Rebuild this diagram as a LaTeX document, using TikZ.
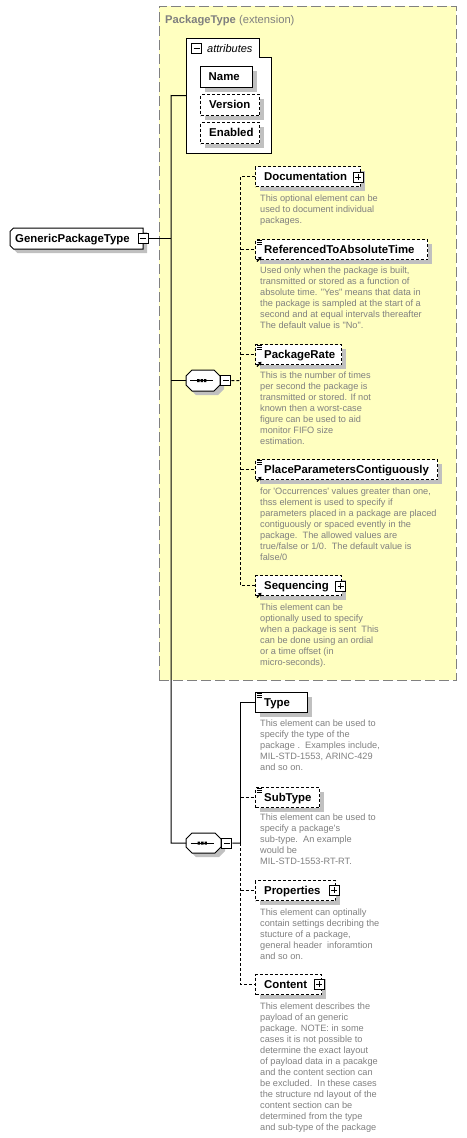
\documentclass[tikz,border=0pt]{standalone}
\usepackage{fontspec}
\setmainfont{Liberation Sans}
\newfontfamily\descfont{Liberation Sans}
\usetikzlibrary{shadows}
\definecolor{pkgyellow}{RGB}{255,255,192}
\definecolor{shadowgray}{RGB}{192,192,192}
\definecolor{descgray}{RGB}{128,128,128}
\tikzset{
  elshadow/.style={drop shadow={shadow xshift=4pt, shadow yshift=-4pt, fill=shadowgray, opacity=1}},
  elbox/.style={draw=black, fill=white, line width=1pt, rectangle, inner sep=0pt, minimum height=20pt, anchor=north west, elshadow},
  optbox/.style={elbox, dash pattern=on 3pt off 2pt},
  eltext/.style={font=\fontsize{11.4}{13}\selectfont\bfseries, anchor=base west, inner sep=0pt},
  desc/.style={font=\descfont\fontsize{9.2}{11}\selectfont, text=descgray, anchor=north west, align=left, inner sep=0pt},
  conn/.style={line width=1pt},
  optconn/.style={line width=1pt, dash pattern=on 3pt off 2pt},
  pmbox/.style={draw=black, fill=white, line width=1pt, rectangle, minimum size=10pt, inner sep=0pt},
  holder/.style={rectangle, inner sep=0pt, anchor=north west},
  pkgbox/.style={draw=descgray, fill=pkgyellow, line width=1.3pt, dash pattern=on 10pt off 4pt, rectangle, inner sep=0pt}
}
\newcommand\mkminus[1]{\draw[line width=1pt] ([xshift=-3pt]#1.center) -- ([xshift=3pt]#1.center);}
\newcommand\mkplus[1]{\draw[line width=1pt] ([xshift=-3pt]#1.center) -- ([xshift=3pt]#1.center) ([yshift=-3pt]#1.center) -- ([yshift=3pt]#1.center);}
\newcommand\listicon[1]{\draw[line width=0.8pt] ([shift={(1.5,1.3)}]#1.north west) -- ++(5,0) ([shift={(1.5,3.1)}]#1.north west) -- ++(5,0) ([shift={(1.5,4.9)}]#1.north west) -- ++(5,0);}
\newcommand\reficon[1]{\draw[line width=1.1pt] ([shift={(2,1.5)}]#1.south west) -- ([shift={(4.5,-1)}]#1.south west);
  \fill ([shift={(6.5,-3.2)}]#1.south west) -- ([shift={(2.8,-2.6)}]#1.south west) -- ([shift={(5.9,0.5)}]#1.south west) -- cycle;}
\newcommand\compglyph[1]{\draw[line width=1pt] ([xshift=-13pt]#1.center) -- ([xshift=10pt]#1.center);
  \fill ([shift={(-6,-1.5)}]#1.center) rectangle ++(2.4,3) ([shift={(-2.6,-1.5)}]#1.center) rectangle ++(2.4,3) ([shift={(0.8,-1.5)}]#1.center) rectangle ++(2.4,3);}
% chamfered outline: x0 y0 x1 y1 left-chamfer right-chamfer
\newcommand\chamf[6]{%
  \fill[shadowgray] ({#1+4+#5},{#2+4}) -- ({#3+4-#6},{#2+4}) -- ({#3+4},{#2+4+#6}) -- ({#3+4},{#4+4-#6}) -- ({#3+4-#6},{#4+4}) -- ({#1+4+#5},{#4+4}) -- ({#1+4},{#4+4-#5}) -- ({#1+4},{#2+4+#5}) -- cycle;
  \draw[line width=1pt, fill=white] ({#1+#5},#2) -- ({#3-#6},#2) -- (#3,{#2+#6}) -- (#3,{#4-#6}) -- ({#3-#6},#4) -- ({#1+#5},#4) -- (#1,{#4-#5}) -- (#1,{#2+#5}) -- cycle;}
\begin{document}
\begin{tikzpicture}[x=1pt,y=-1pt]
\useasboundingbox (0,0) rectangle (466,1138);
% extension box
\node[pkgbox, anchor=north west, minimum width=297pt, minimum height=674pt] (pkg) at (158.5,5.5) {};
\node[anchor=base west, inner sep=0pt, text=descgray, font=\fontsize{11.2}{13}\selectfont] (pkgtitle) at (165,23) {\textbf{PackageType} (extension)};
% attributes
\node[holder, minimum width=85pt, minimum height=115pt] (attr) at (186,38) {};
\draw[line width=1pt, fill=white] (attr.north west) -- ++(73,0) -- ++(0,19) -- (attr.north east |- 0,57) -- (attr.south east) -- (attr.south west) -- cycle;
\node[pmbox] (attrm) at (196.5,48.5) {};
\mkminus{attrm}
\node[anchor=base west, inner sep=0pt, font=\fontsize{11}{13}\selectfont\itshape] (attrlbl) at (207,52.3) {attributes};
\node[elbox, minimum width=52pt, minimum height=21pt] (name) at (200,66) {};
\node[eltext] (namet) at (208.5,80.5) {Name};
\node[optbox, minimum width=59pt, minimum height=21pt] (version) at (200,94) {};
\node[eltext] (versiont) at (209,108.5) {Version};
\node[optbox, minimum width=59pt, minimum height=21pt] (enabled) at (200,122) {};
\node[eltext] (enabledt) at (209,136.5) {Enabled};
% root
\chamf{10}{228}{143}{249}{3.5}{0}
\node[holder, minimum width=133pt, minimum height=21pt] (gpt) at (10,228) {};
\node[eltext] (gptt) at (15,242.5) {GenericPackageType};
\node[pmbox] (gptm) at (gpt.east) {};
\mkminus{gptm}
% sequence 1
\chamf{186}{370}{220}{391}{6}{6}
\node[holder, minimum width=34pt, minimum height=21pt] (seq1) at (186,370) {};
\compglyph{seq1}
\node[pmbox, anchor=west] (seq1m) at (seq1.east) {};
\mkminus{seq1m}
% sequence 2
\chamf{186}{833}{221}{853}{6}{6}
\node[holder, minimum width=35pt, minimum height=20pt] (seq2) at (186,833) {};
\compglyph{seq2}
\node[pmbox, anchor=west] (seq2m) at (seq2.east) {};
\mkminus{seq2m}
% group 1 elements
\node[optbox, minimum width=105pt] (doc) at (255,166) {};
\node[eltext] (doct) at (264,180) {Documentation};
\node[pmbox] (docp) at (358,177) {};
\mkplus{docp}
\node[desc] (docd) at (260,195) {This optional element can be\\used to document individual\\packages.};

\node[optbox, minimum width=172pt] (ref) at (255,239) {};
\listicon{ref}\reficon{ref}
\node[eltext] (reft) at (264,253) {ReferencedToAbsoluteTime};
\node[desc] (refd) at (260,267) {Used only when the package is built,\\transmitted or stored as a function of\\absolute time. "Yes" means that data in\\the package is sampled at the start of a\\second and at equal intervals thereafter\\The default value is "No".};

\node[optbox, minimum width=86pt] (rate) at (255,344) {};
\listicon{rate}\reficon{rate}
\node[eltext] (ratet) at (264,358) {PackageRate};
\node[desc] (rated) at (260,372) {This is the number of times\\per second the package is\\transmitted or stored. If not\\known then a worst-case\\figure can be used to aid\\monitor FIFO size\\estimation.};

\node[optbox, minimum width=182pt] (place) at (255,459) {};
\listicon{place}\reficon{place}
\node[eltext] (placet) at (264,473) {PlaceParametersContiguously};
\node[desc] (placed) at (260,488) {for 'Occurrences' values greater than one,\\thss element is used to specify if\\parameters placed in a package are placed\\contiguously or spaced evently in the\\package.\ \ The allowed values are\\true/false or 1/0.\ \ The default value is\\false/0};

\node[optbox, minimum width=86pt] (seqc) at (255,575) {};
\reficon{seqc}
\node[eltext] (seqct) at (264,589) {Sequencing};
\node[pmbox] (seqcp) at (340.5,586) {};
\mkplus{seqcp}
\node[desc] (seqcd) at (260,604) {This element can be\\optionally used to specify\\when a package is sent\ \ This\\can be done using an ordial\\or a time offset (in\\micro-seconds).};

% group 2 elements
\node[elbox, minimum width=52pt] (type) at (255,692) {};
\listicon{type}
\node[eltext] (typet) at (264,706) {Type};
\node[desc] (typed) at (260,720) {This element can be used to\\specify the type of the\\package .\ \ Examples include,\\MIL-STD-1553, ARINC-429\\and so on.};

\node[optbox, minimum width=64pt] (subtype) at (255,787) {};
\listicon{subtype}
\node[eltext] (subtypet) at (264,801) {SubType};
\node[desc] (subtyped) at (260,814) {This element can be used to\\specify a package's\\sub-type.\ \ An example\\would be\\MIL-STD-1553-RT-RT.};

\node[optbox, minimum width=80pt] (props) at (255,880) {};
\node[eltext] (propst) at (264,894) {Properties};
\node[pmbox] (propsp) at (334,890) {};
\mkplus{propsp}
\node[desc] (propsd) at (260,909) {This element can optinally\\contain settings decribing the\\stucture of a package,\\general header\ \ inforamtion\\and so on.};

\node[optbox, minimum width=66pt] (content) at (255,974) {};
\node[eltext] (contentt) at (264,988) {Content};
\node[pmbox] (contentp) at (319,984) {};
\mkplus{contentp}
\node[desc] (contentd) at (260,1003) {This element describes the\\payload of an generic\\package. NOTE: in some\\cases it is not possible to\\determine the exact layout\\of payload data in a pacakge\\and the content section can\\be excluded.\ \ In these cases\\the structure nd layout of the\\content section can be\\determined from the type\\and sub-type of the package};

% connectors
\coordinate (spinetop) at (171,95.5);
\draw[conn] (attr.west) -- (spinetop) |- (seq2.west);
\draw[conn] (gptm.east) -- (gptm.east -| spinetop);
\draw[conn] (seq1.west) -- (seq1.west -| spinetop);
\coordinate (bus1) at (240.5,380.5);
\draw[optconn] (seq1m.east) -- (bus1);
\draw[optconn] (doc.west) -- (doc.west -| bus1) -- (seqc.west -| bus1) -- (seqc.west);
\draw[optconn] (ref.west -| bus1) -- (ref.west);
\draw[optconn] (rate.west -| bus1) -- (rate.west);
\draw[optconn] (place.west -| bus1) -- (place.west);
\coordinate (bus2) at (240.5,843);
\draw[conn] (seq2m.east) -- (bus2);
\draw[conn] (type.west) -- (type.west -| bus2) -- (bus2);
\draw[optconn] (bus2) -- (content.west -| bus2) -- (content.west);
\draw[optconn] (subtype.west -| bus2) -- (subtype.west);
\draw[optconn] (props.west -| bus2) -- (props.west);
\end{tikzpicture}
\end{document}
